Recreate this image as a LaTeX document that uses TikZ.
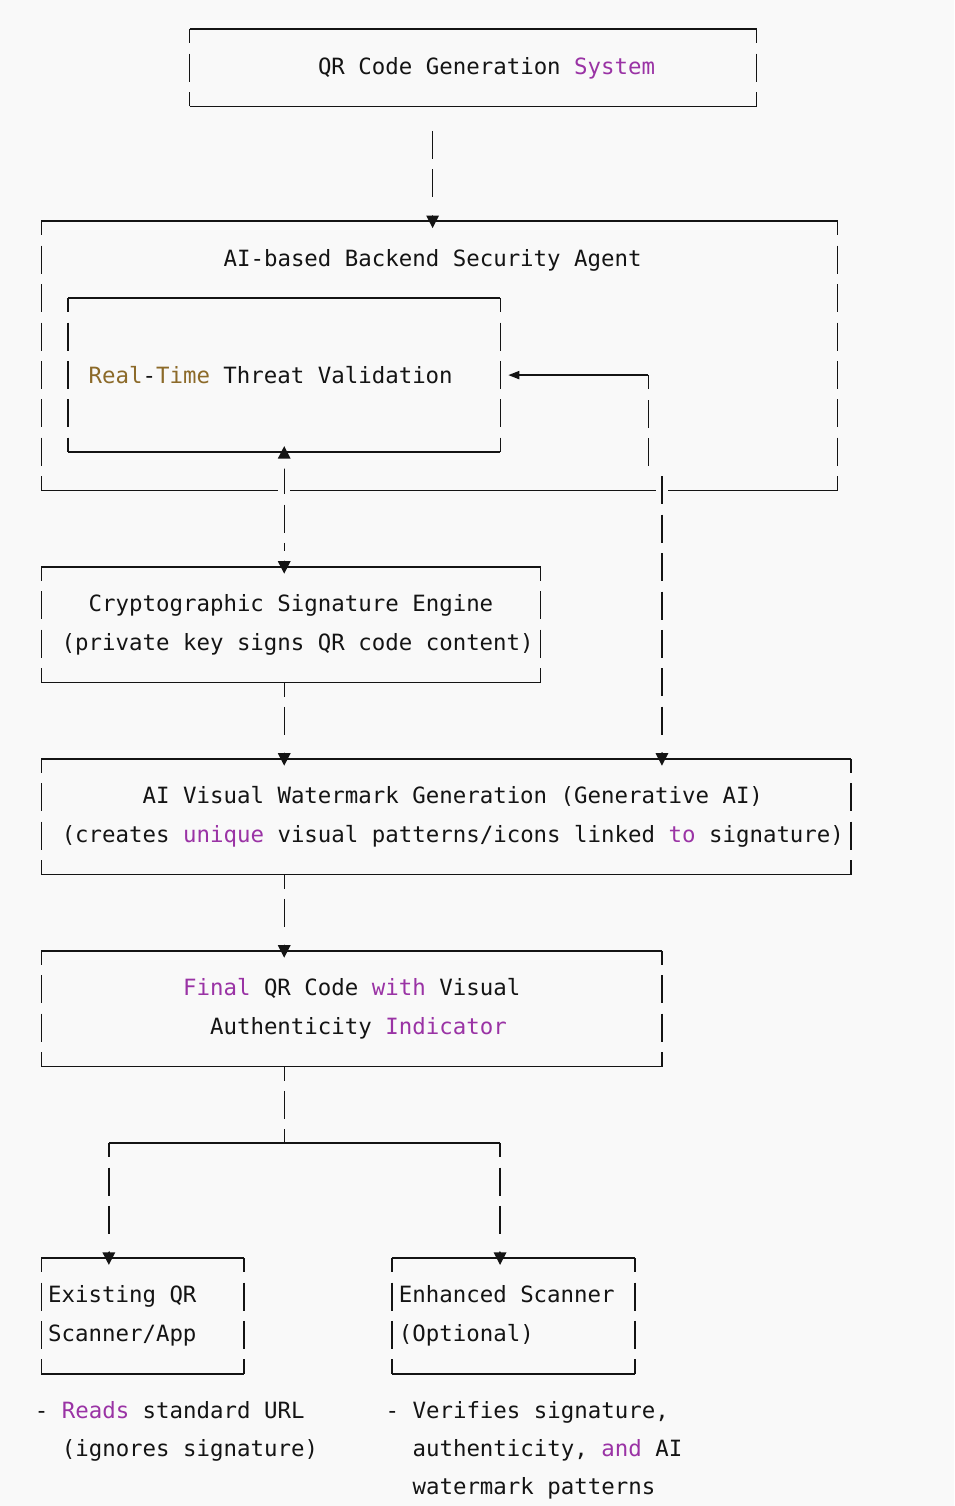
\documentclass[tikz,border=0pt]{standalone}
\usepackage{fontspec}
\setmonofont{DejaVu Sans Mono}
\usepackage{tikz}
\usetikzlibrary{arrows.meta}

\definecolor{paper}{HTML}{F9F9F9}
\definecolor{ink}{HTML}{141414}
\definecolor{kw}{HTML}{9A33A5}
\definecolor{lit}{HTML}{8C6A29}

\newcommand{\kw}[1]{\textcolor{kw}{#1}}
\newcommand{\lit}[1]{\textcolor{lit}{#1}}
\newcommand{\pad}{\hspace*{13.49pt}}
% cadre : haut et bas pleins, cotes en pointilles
\newcommand{\cadre}[1]{%
  \draw[rim] (#1.north west) -- (#1.north east) (#1.south west) -- (#1.south east);
  \draw[bar, dash phase=14pt] (#1.north west) -- (#1.south west) (#1.north east) -- (#1.south east);}

\begin{document}
\begin{tikzpicture}[
    x=1pt, y=-1pt,
    declare function={cx(\c)=41.4+13.49*\c; ry(\r)=29.5+38.4*\r;},
    rim/.style={draw=ink, line width=1.9pt},
    bar/.style={draw=ink, line width=1.4pt, dash pattern=on 28pt off 10.4pt},
    % pointe pleine, avec un blanc devant (couleur du fond)
    tete/.style={arrows={-{Triangle[color=paper,width=12pt,length=10pt] Triangle[width=12.5pt,length=12.5pt]}}},
    tetes/.style={arrows={{Triangle[width=12.5pt,length=12.5pt] Triangle[color=paper,width=12pt,length=10pt]}-{Triangle[color=paper,width=12pt,length=10pt] Triangle[width=12.5pt,length=12.5pt]}}},
    petit/.style={arrows={-Triangle[width=8pt,length=11pt]}},
    cut/.style={draw=paper, line width=12pt},
    box/.style={inner sep=0pt, text=ink, align=center,
      font=\ttfamily\fontsize{22.4}{38.4}\selectfont},
    lbox/.style={box, align=flush left},
    note/.style={box, align=flush left, anchor=north west},
  ]
  \path[fill=paper, use as bounding box] (0,0) rectangle (954,1506);

  \node[box, minimum width=566.58pt, minimum height=76.8pt] (sys) at ({cx(32)},{ry(1)})
    {\pad\pad QR Code Generation \kw{System}};
  \node[box, minimum width=795.91pt, minimum height=268.8pt] (agent) at ({cx(29.5)},{ry(8.5)}) {};
  \node[box] (title) at ({cx(29)},{ry(6)}) {AI-based Backend Security Agent};
  \node[lbox, text width=391.21pt, minimum width=431.68pt, minimum height=153.6pt]
    (threat) at ({cx(18)},{ry(9)}) {\lit{Real}-\lit{Time} Threat Validation};
  \node[box, minimum width=499.13pt, minimum height=115.2pt] (crypto) at ({cx(18.5)},{ry(15.5)})
    {Cryptographic Signature Engine\\ \pad(private key signs QR code content)};
  \node[box, minimum width=809.4pt, minimum height=115.2pt] (wm) at ({cx(30)},{ry(20.5)})
    {\pad AI Visual Watermark Generation (Generative AI)\\
     \pad(creates \kw{unique} visual patterns/icons linked \kw{to} signature)};
  \node[box, minimum width=620.54pt, minimum height=115.2pt] (final) at ({cx(23)},{ry(25.5)})
    {\kw{Final} QR Code \kw{with} Visual\\ \pad Authenticity \kw{Indicator}};
  \node[lbox, text width=188.86pt, minimum width=202.35pt, minimum height=115.2pt]
    (exist) at ({cx(7.5)},{ry(33.5)}) {Existing QR\\ Scanner/App};
  \node[lbox, text width=229.33pt, minimum width=242.82pt, minimum height=115.2pt]
    (enh) at ({cx(35)},{ry(33.5)}) {Enhanced Scanner\\ (Optional)};

  \node[note] (readnote) at ({cx(0)-6.75},{ry(36)-11})
    {- \kw{Reads} standard URL\\ \phantom{- }(ignores signature)};
  \node[note] (checknote) at ({cx(26)-6.75},{ry(36)-11})
    {- Verifies signature,\\ \phantom{- }authenticity, \kw{and} AI\\ \phantom{- }watermark patterns};

  \foreach \b in {sys,agent,threat,crypto,wm,final,exist,enh} {\cadre{\b}}

  \coordinate (passA) at (agent.south -| threat.south);
  \coordinate (passB) at ({cx(46)},{ry(12)});
  \coordinate (montee) at ({cx(46)},{ry(12)-14});
  \coordinate (pied) at ({cx(45)},{ry(11)+14});
  \coordinate (coude) at ({cx(45)},{ry(9)});
  \coordinate (split) at ({cx(18)},{ry(29)});
  \coordinate (gauche) at ({cx(5)},{ry(29)});
  \coordinate (droite) at ({cx(34)},{ry(29)});

  \draw[cut] ([yshift=1pt]passA) -- ([yshift=-1pt]passA);
  \draw[cut] ([yshift=1pt]passB) -- ([yshift=-1pt]passB);

  \draw[bar, tete, shorten <=24.4pt, shorten >=-6.8pt] (sys.south -| title) -- (agent.north -| title);
  \draw[bar, tetes, shorten <=-6pt, shorten >=-6.8pt, dash phase=30.5pt] (threat.south) -- (crypto.north -| threat.south);
  \draw[bar, tete, shorten >=-6.8pt, dash phase=14pt] (crypto.south -| threat.south) -- (wm.north -| threat.south);
  \draw[bar, tete, shorten >=-6.8pt] (montee) -- (wm.north -| montee);
  \draw[bar] (pied) -- (coude);
  \draw[rim, petit, shorten >=8pt] (coude) -- (threat.east);
  \draw[bar, tete, shorten >=-6.8pt, dash phase=14pt] (wm.south -| split) -- (final.north -| split);
  \draw[bar, dash phase=14pt] (final.south -| split) -- (split);
  \draw[rim] (gauche) -- (droite);
  \draw[bar, tete, shorten >=-6.8pt, dash phase=14pt] (gauche) -- (exist.north -| gauche);
  \draw[bar, tete, shorten >=-6.8pt, dash phase=14pt] (droite) -- (enh.north -| droite);
\end{tikzpicture}
\end{document}
